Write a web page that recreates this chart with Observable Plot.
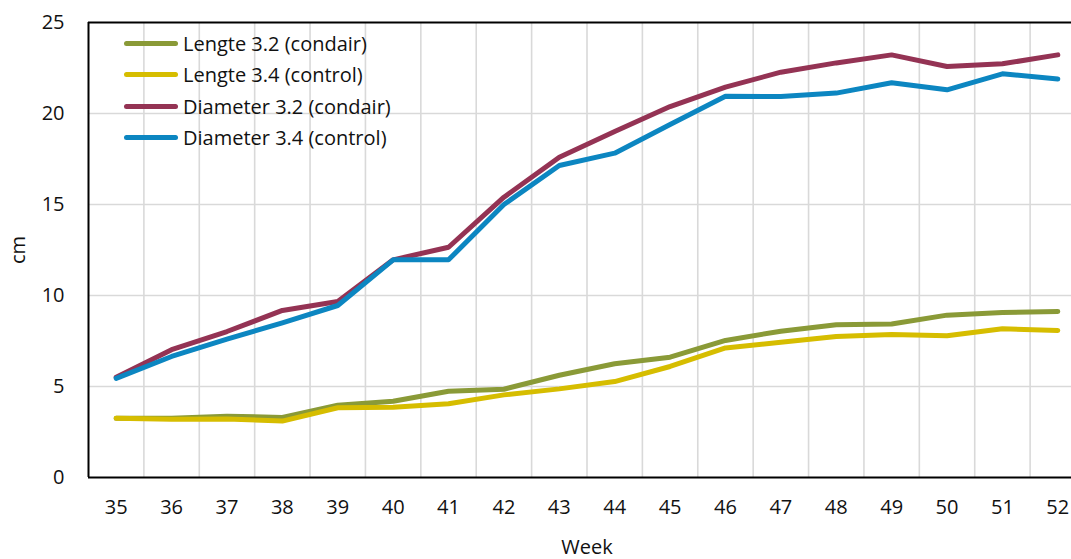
<!DOCTYPE html>
<html>
<head>
<meta charset="utf-8">
<script src="https://cdn.jsdelivr.net/npm/d3@7"></script>
<script src="https://cdn.jsdelivr.net/npm/@observablehq/plot@0.6"></script>
<style>
  html, body { margin: 0; padding: 0; background: #fff; overflow: hidden; }
  #chart { position: relative; width: 1071px; height: 559px; overflow: hidden; font-family: "Open Sans", sans-serif; }
  #chart svg { max-width: none !important; width: 1085px; height: 559px; }
  #legend { position: absolute; left: 124px; top: 28px; font-size: 20px; color: #111; }
  #legend .row { display: flex; align-items: center; height: 31.3px; }
  #legend .swatch { width: 54px; height: 5px; border-radius: 3px; margin-right: 5px; }
</style>
</head>
<body>
<div id="chart"><div id="legend"></div></div>
<script>
// Weekly measurements (cm)
const weeks = [35, 36, 37, 38, 39, 40, 41, 42, 43, 44, 45, 46, 47, 48, 49, 50, 51, 52];
const lengte32 = [3.25, 3.25, 3.37, 3.3, 3.97, 4.19, 4.74, 4.85, 5.62, 6.25, 6.61, 7.53, 8.04, 8.39, 8.43, 8.92, 9.07, 9.12];
const lengte34 = [3.25, 3.2, 3.22, 3.1, 3.83, 3.86, 4.05, 4.54, 4.87, 5.27, 6.1, 7.12, 7.43, 7.75, 7.86, 7.79, 8.17, 8.08];
const diameter32 = [5.51, 7.02, 8.02, 9.18, 9.67, 11.96, 12.65, 15.4, 17.6, 19.01, 20.38, 21.45, 22.27, 22.78, 23.22, 22.58, 22.73, 23.22];
const diameter34 = [5.45, 6.65, 7.6, 8.5, 9.45, 11.96, 11.96, 15.0, 17.14, 17.82, 19.4, 20.95, 20.93, 21.12, 21.69, 21.3, 22.18, 21.9];
const seriesNames = ["Lengte 3.2 (condair)", "Lengte 3.4 (control)", "Diameter 3.2 (condair)", "Diameter 3.4 (control)"];
const seriesColors = ["#8a9a37", "#d6bd00", "#943354", "#0c86c1"];
const yTicks = [0, 5, 10, 15, 20, 25];

const seriesValues = [lengte32, lengte34, diameter32, diameter34];
const rows = seriesValues.flatMap((vals, i) =>
  vals.map((v, j) => ({ week: weeks[j], value: v, series: seriesNames[i] })));

// category boundaries between weeks
const bounds = [weeks[0] - 0.5, ...weeks.map(w => w + 0.5)];

const chart = Plot.plot({
  width: 1085,
  height: 559,
  marginLeft: 88,
  marginRight: 0,
  marginTop: 22,
  marginBottom: 82,
  style: { fontFamily: "'Open Sans', sans-serif", fontSize: "20px", color: "#111", background: "white" },
  x: { domain: [bounds[0], bounds[bounds.length - 1]] },
  y: { domain: [0, 25] },
  color: { domain: seriesNames, range: seriesColors },
  marks: [
    Plot.ruleX(bounds.slice(1), { stroke: "#d9d9d9", strokeWidth: 1.6 }),
    Plot.ruleY(yTicks.slice(1, -1), { stroke: "#d9d9d9", strokeWidth: 1.6 }),
    Plot.axisX(weeks, { tickSize: 0, tickPadding: 22, tickFormat: d => String(d), label: "Week", labelArrow: false, labelAnchor: "center", labelOffset: 76 }),
    Plot.axisY(yTicks, { tickSize: 0, tickPadding: 24, label: "cm", labelArrow: false, labelAnchor: "center", labelOffset: 78 }),
    Plot.line(rows, { x: "week", y: "value", z: "series", stroke: "series", strokeWidth: 5, strokeLinejoin: "round", strokeLinecap: "round" }),
    Plot.ruleY([0, 25], { stroke: "#000", strokeWidth: 2 }),
    Plot.ruleX([bounds[0]], { stroke: "#000", strokeWidth: 2 })
  ]
});

const container = document.getElementById("chart");
container.insertBefore(chart, container.firstChild);

const legend = document.getElementById("legend");
seriesNames.forEach((name, i) => {
  const row = document.createElement("div");
  row.className = "row";
  const sw = document.createElement("span");
  sw.className = "swatch";
  sw.style.background = seriesColors[i];
  const label = document.createElement("span");
  label.textContent = name;
  row.appendChild(sw);
  row.appendChild(label);
  legend.appendChild(row);
});
</script>
</body>
</html>
